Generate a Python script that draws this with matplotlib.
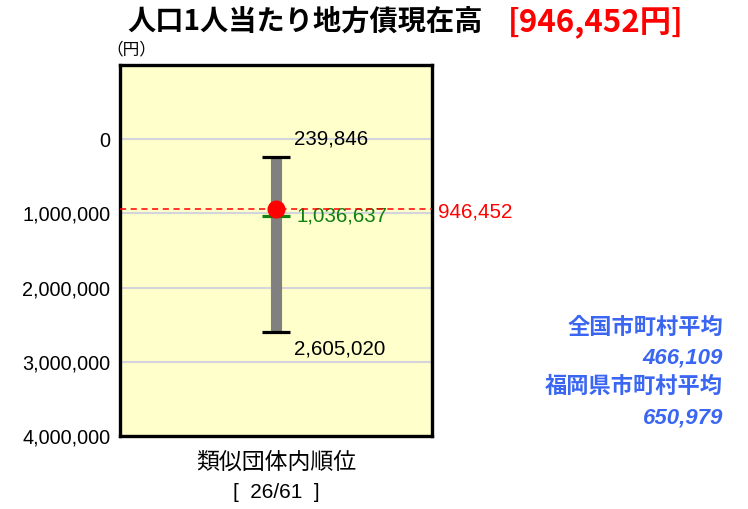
import matplotlib
matplotlib.use("Agg")
import matplotlib.pyplot as plt
import matplotlib.transforms as mtransforms

plt.rcParams['font.family'] = ['Liberation Sans', 'Noto Sans CJK JP', 'DejaVu Sans']

# ---- data ----
title = "人口1人当たり地方債現在高"
value_label = "[946,452円]"
unit_label = "（円）"
xlabel = "類似団体内順位"
rank_label = "[  26/61  ]"
own_value = 946452
group_min = 239846
group_max = 2605020
group_avg = 1036637
yticks = [0, 1000000, 2000000, 3000000, 4000000]
ylim = (-1000000, 4000000)
side_labels = ["全国市町村平均", "466,109", "福岡県市町村平均", "650,979"]

fig = plt.figure(figsize=(7.48, 5.09), dpi=100)
ax = fig.add_axes([120/748, 1-436/509, (432-120)/748, (436-65)/509])
ax.set_facecolor('#FFFFCC')
ax.set_xlim(0, 1)
ax.set_ylim(ylim[1], ylim[0])
ax.set_yticks(yticks)
ax.set_yticklabels([f"{v:,}" for v in yticks], fontsize=14.3)
ax.tick_params(axis='y', length=0, pad=7)
ax.set_xticks([])
for s in ax.spines.values():
    s.set_linewidth(2.4)
    s.set_color('black')
ax.yaxis.grid(True, color='#d4d4dc', linewidth=1.5)
ax.set_axisbelow(True)

xc = 0.5
cap = 0.045
ax.vlines(xc, group_min, group_max, color='#808080', linewidth=8, zorder=3)
ax.hlines([group_min, group_max], xc-cap, xc+cap, color='black', linewidth=2.3, zorder=4)
ax.hlines(group_avg, xc-cap, xc+cap, color='#108010', linewidth=2.3, zorder=4)
ax.axhline(own_value, color='#ff0000', linewidth=1.1, linestyle=(0, (4, 3)), zorder=5, clip_on=False)
ax.plot([xc], [own_value], 'o', color='#ff0000', markersize=12, zorder=6)

fs = 14.8
ax.annotate(f"{group_min:,}", xy=(xc, group_min), xytext=(13, 13), textcoords='offset points',
            ha='left', va='center', fontsize=fs, color='black')
ax.annotate(f"{group_max:,}", xy=(xc, group_max), xytext=(13, -12), textcoords='offset points',
            ha='left', va='center', fontsize=fs, color='black')
ax.annotate(f"{group_avg:,}", xy=(xc, group_avg), xytext=(15, 0), textcoords='offset points',
            ha='left', va='center', fontsize=fs, color='#108010')
trans = mtransforms.blended_transform_factory(ax.transAxes, ax.transData)
ax.annotate(f"{own_value:,}", xy=(1, own_value), xycoords=trans, xytext=(4, -2), textcoords='offset points',
            ha='left', va='center', fontsize=fs, color='#ff0000')

# titles
fig.text(127/748, 1-22/509, title, ha='left', va='center', fontsize=20.3, fontweight='bold',
         family=['Noto Sans CJK JP', 'DejaVu Sans'], color='black')
fig.text(508/748, 1-22/509, value_label, ha='left', va='center', fontsize=22.5, fontweight='bold',
         family=['Noto Sans CJK JP'], color='#ff0000')
fig.text(131/748, 1-50/509, unit_label, ha='center', va='center', fontsize=12,
         family=['Noto Sans CJK JP'], color='black')

fig.text(276/748, 1-462/509, xlabel, ha='center', va='center', fontsize=16.5,
         family=['Noto Sans CJK JP'], color='black')
fig.text(276/748, 1-492/509, rank_label, ha='center', va='center', fontsize=15,
         family=['Liberation Sans', 'Noto Sans CJK JP'], color='black')

ys = [328, 358, 387, 418]
for lab, yp in zip(side_labels, ys):
    fig.text(723/748, 1-yp/509, lab, ha='right', va='center', fontsize=16, fontweight='bold',
             style='italic', family=['Liberation Sans', 'Noto Sans CJK JP'], color='#3a66f2')

fig.savefig('out.png', dpi=100)
